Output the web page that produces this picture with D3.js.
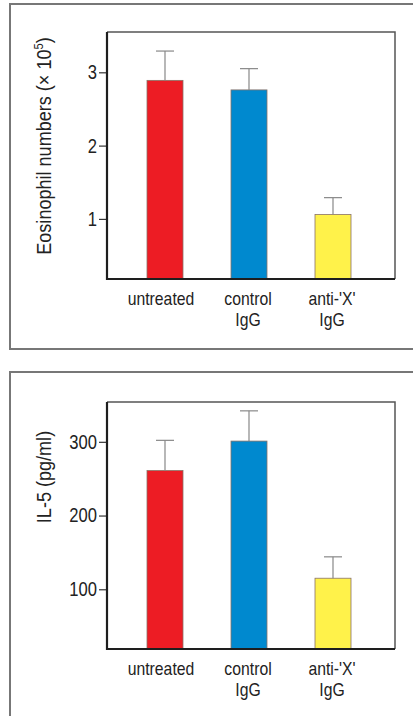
<!DOCTYPE html>
<html>
<head>
<meta charset="utf-8">
<script src="https://cdn.jsdelivr.net/npm/d3@7"></script>
<style>
  body { margin: 0; background: #fff; }
  svg { display: block; }
  text { font-family: "Liberation Sans", Arial, sans-serif; fill: #222; }
</style>
</head>
<body>
<svg id="chart" width="413" height="716"></svg>
<script>
// data
const categories = ["untreated", "control IgG", "anti-'X' IgG"];
const barColors = ["#ed1c24", "#0089cf", "#fff24a"];

const eosValues = [2.89, 2.76, 1.06];
const eosErrors = [3.29, 3.05, 1.29];
const eosTicks = [1, 2, 3];

const il5Values = [261, 301, 115];
const il5Errors = [302, 342, 144];
const il5Ticks = [100, 200, 300];

const svg = d3.select("#chart");

const left = 107, right = 395;
const x = d3.scalePoint().domain(categories).range([165, 333]);
const barW = 36;
const sx = 0.83; // fake condensed face

function panel(opts) {
  // outer frame
  svg.append("rect")
    .attr("x", 10).attr("y", opts.frameTop)
    .attr("width", 420).attr("height", opts.frameH)
    .attr("fill", "none").attr("stroke", "#777").attr("stroke-width", 2);

  const y = d3.scaleLinear().domain(opts.domain).range([opts.bottom, opts.top]);
  const g = svg.append("g");

  // top/right of box (thin)
  g.append("path")
    .attr("d", `M${left},${opts.top}H${right}V${opts.bottom}`)
    .attr("fill", "none").attr("stroke", "#555").attr("stroke-width", 1.5);

  // bars
  g.selectAll(".bar")
    .data(opts.values)
    .enter()
    .append("rect")
    .attr("x", (d, i) => x(categories[i]) - barW / 2)
    .attr("y", d => y(d))
    .attr("width", barW)
    .attr("height", d => opts.bottom - y(d))
    .attr("fill", (d, i) => barColors[i])
    .attr("stroke", "#8a7266")
    .attr("stroke-width", 0.8);

  // error bars
  const err = g.selectAll(".err")
    .data(opts.errors)
    .enter()
    .append("g");
  err.append("line")
    .attr("x1", (d, i) => x(categories[i]))
    .attr("x2", (d, i) => x(categories[i]))
    .attr("y1", (d, i) => y(opts.values[i]))
    .attr("y2", d => y(d))
    .attr("stroke", "#888").attr("stroke-width", 1.2);
  err.append("line")
    .attr("x1", (d, i) => x(categories[i]) - 9)
    .attr("x2", (d, i) => x(categories[i]) + 9)
    .attr("y1", d => y(d))
    .attr("y2", d => y(d))
    .attr("stroke", "#888").attr("stroke-width", 1.2);

  // y axis
  const ax = g.append("g")
    .attr("transform", `translate(${left},0)`)
    .call(d3.axisLeft(y).tickValues(opts.ticks).tickFormat(d3.format("d")).tickSize(8).tickPadding(2));
  ax.select(".domain").remove();
  ax.selectAll(".tick line").attr("stroke", "#333").attr("stroke-width", 1.2);
  ax.selectAll(".tick text")
    .attr("font-family", null)
    .attr("x", -10 / sx)
    .attr("transform", `scale(${sx},1)`)
    .style("font-size", "20px")
    .attr("fill", "#222");

  // left and bottom of box (thick)
  g.append("path")
    .attr("d", `M${left},${opts.top}V${opts.bottom}H${right}`)
    .attr("fill", "none").attr("stroke", "#1e1e1e").attr("stroke-width", 2.2);

  // category labels
  const lab = g.selectAll(".cat")
    .data(categories)
    .enter()
    .append("text")
    .attr("text-anchor", "middle")
    .style("font-size", "19px")
    .attr("transform", d => `translate(${x(d) - (d === "untreated" ? 4 : 1)},${opts.bottom + 26}) scale(${sx},1)`);
  lab.each(function (d) {
    const t = d3.select(this);
    d.split(" ").forEach((p, j) => {
      t.append("tspan")
        .attr("x", 0)
        .attr("dy", j === 0 ? 0 : 21)
        .text(p);
    });
  });

  // y label
  const yl = g.append("text")
    .attr("transform", `translate(51,${opts.labelY}) rotate(-90) scale(0.86,1)`)
    .attr("text-anchor", "middle")
    .style("font-size", "21px");
  opts.label(yl);
}

panel({
  frameTop: 4, frameH: 345,
  top: 32, bottom: 279,
  domain: [0.18, 3.55],
  values: eosValues, errors: eosErrors, ticks: eosTicks,
  labelY: 146,
  label: t => {
    t.append("tspan").text("Eosinophil numbers (× 10");
    t.append("tspan").attr("dy", -8).style("font-size", "13px").text("5");
    t.append("tspan").attr("dy", 8).text(")");
  }
});

panel({
  frameTop: 372, frameH: 400,
  top: 402, bottom: 649,
  domain: [19, 354],
  values: il5Values, errors: il5Errors, ticks: il5Ticks,
  labelY: 477,
  label: t => t.text("IL-5 (pg/ml)")
});
</script>
</body>
</html>
